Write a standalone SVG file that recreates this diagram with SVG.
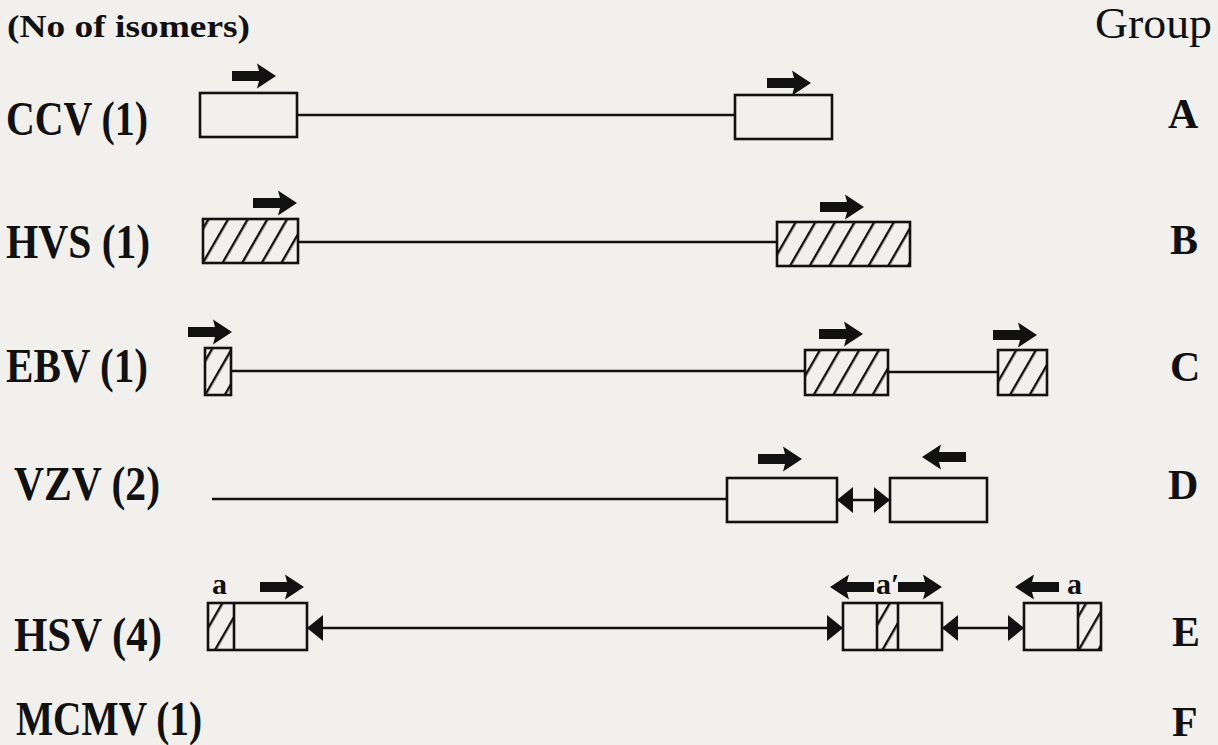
<svg xmlns="http://www.w3.org/2000/svg" width="1218" height="745" viewBox="0 0 1218 745">
<defs>
<style>
.bg{fill:#f1f0ed}
.box{fill:none;stroke:#111;stroke-width:2.6}
.hat{fill:url(#hatch);stroke:none}
.div{stroke:#111;stroke-width:2.6}
.ln{stroke:#111;stroke-width:2.6;fill:none}
.dbl{marker-start:url(#head);marker-end:url(#head)}
.lbl{font-family:"Liberation Serif","Times New Roman",serif;font-weight:bold;font-size:48px;fill:#111}
.grp{font-family:"Liberation Serif","Times New Roman",serif;font-weight:bold;font-size:42px;fill:#111}
.hdr{font-family:"Liberation Serif","Times New Roman",serif;font-weight:bold;font-size:32px;fill:#111}
.sm{font-family:"Liberation Serif","Times New Roman",serif;font-weight:bold;font-size:30px;fill:#111}
.ar{fill:#111}
</style>
<pattern id="hatch" patternUnits="userSpaceOnUse" width="17" height="10" patternTransform="rotate(30)">
<rect x="0" y="0" width="2.4" height="10" fill="#111"/>
</pattern>
<path id="arr" d="M0,-5 L27,-5 L25,-12.5 L44,0 L25,12.5 L27,5 L0,5 Z"/>
<marker id="head" viewBox="0 0 16 26" refX="16" refY="13" markerWidth="16" markerHeight="26" markerUnits="userSpaceOnUse" orient="auto-start-reverse">
<path d="M0,0 L16,13 L0,26 Z" fill="#111"/>
</marker>
</defs>
<rect class="bg" x="0" y="0" width="1218" height="745"/>

<g id="header">
<text class="hdr" x="7" y="37" textLength="243" lengthAdjust="spacingAndGlyphs">(No of isomers)</text>
<text x="1095" y="38" font-family="Liberation Serif, serif" font-size="44" fill="#111" textLength="117" lengthAdjust="spacingAndGlyphs">Group</text>
</g>

<g id="connectors">
<line class="ln" x1="297" y1="115" x2="735" y2="115"/>
<line class="ln" x1="298" y1="242" x2="777" y2="242"/>
<line class="ln" x1="231" y1="371" x2="805" y2="371"/>
<line class="ln" x1="888" y1="372" x2="998" y2="372"/>
<line class="ln" x1="212" y1="499" x2="727" y2="499"/>
<line class="ln dbl" x1="837" y1="500" x2="890" y2="500"/>
<line class="ln dbl" x1="307" y1="628" x2="843" y2="628"/>
<line class="ln dbl" x1="942" y1="628" x2="1024" y2="628"/>
</g>

<g id="ccv">
<text class="lbl" x="6" y="135" textLength="142" lengthAdjust="spacingAndGlyphs">CCV (1)</text>
<rect class="box" x="200" y="93" width="97" height="44"/>
<rect class="box" x="735" y="95" width="97" height="44"/>
<use href="#arr" class="ar" x="232" y="76"/>
<use href="#arr" class="ar" x="767" y="83"/>
<text class="grp" x="1168" y="128">A</text>
</g>

<g id="hvs">
<text class="lbl" x="6" y="258" textLength="144" lengthAdjust="spacingAndGlyphs">HVS (1)</text>
<rect class="hat" x="203" y="219" width="95" height="44"/>
<rect class="box" x="203" y="219" width="95" height="44"/>
<rect class="hat" x="777" y="222" width="133" height="44"/>
<rect class="box" x="777" y="222" width="133" height="44"/>
<use href="#arr" class="ar" x="253" y="203"/>
<use href="#arr" class="ar" x="820" y="207"/>
<text class="grp" x="1170" y="254">B</text>
</g>

<g id="ebv">
<text class="lbl" x="6" y="382" textLength="142" lengthAdjust="spacingAndGlyphs">EBV (1)</text>
<rect class="hat" x="205" y="348" width="26" height="47"/>
<rect class="box" x="205" y="348" width="26" height="47"/>
<rect class="hat" x="805" y="350" width="83" height="45"/>
<rect class="box" x="805" y="350" width="83" height="45"/>
<rect class="hat" x="998" y="350" width="49" height="45"/>
<rect class="box" x="998" y="350" width="49" height="45"/>
<use href="#arr" class="ar" x="188" y="332"/>
<use href="#arr" class="ar" x="819" y="334"/>
<use href="#arr" class="ar" x="993" y="335"/>
<text class="grp" x="1170" y="381">C</text>
</g>

<g id="vzv">
<text class="lbl" x="14" y="500" textLength="146" lengthAdjust="spacingAndGlyphs">VZV (2)</text>
<rect class="box" x="727" y="478" width="110" height="44"/>
<rect class="box" x="890" y="478" width="97" height="44"/>
<use href="#arr" class="ar" x="758" y="459"/>
<use href="#arr" class="ar" transform="translate(966,457) scale(-1,1)"/>
<text class="grp" x="1168" y="499">D</text>
</g>

<g id="hsv">
<text class="lbl" x="14" y="651" textLength="148" lengthAdjust="spacingAndGlyphs">HSV (4)</text>
<rect class="hat" x="208" y="603" width="26" height="47"/>
<line class="div" x1="234" y1="603" x2="234" y2="650"/>
<rect class="box" x="208" y="603" width="99" height="47"/>
<text class="sm" x="212" y="594">a</text>
<use href="#arr" class="ar" x="260" y="587"/>
<rect class="hat" x="877" y="603" width="21" height="47"/>
<line class="div" x1="877" y1="603" x2="877" y2="650"/>
<line class="div" x1="898" y1="603" x2="898" y2="650"/>
<rect class="box" x="843" y="603" width="99" height="47"/>
<use href="#arr" class="ar" transform="translate(874,587) scale(-1,1)"/>
<text class="sm" x="876" y="594">a′</text>
<use href="#arr" class="ar" x="898" y="587"/>
<rect class="hat" x="1078" y="603" width="23" height="47"/>
<line class="div" x1="1078" y1="603" x2="1078" y2="650"/>
<rect class="box" x="1024" y="603" width="77" height="47"/>
<use href="#arr" class="ar" transform="translate(1059,587) scale(-1,1)"/>
<text class="sm" x="1067" y="594">a</text>
<text class="grp" x="1172" y="646">E</text>
</g>

<g id="mcmv">
<text class="lbl" x="16" y="735" textLength="186" lengthAdjust="spacingAndGlyphs">MCMV (1)</text>
<text class="grp" x="1172" y="736">F</text>
</g>
</svg>
